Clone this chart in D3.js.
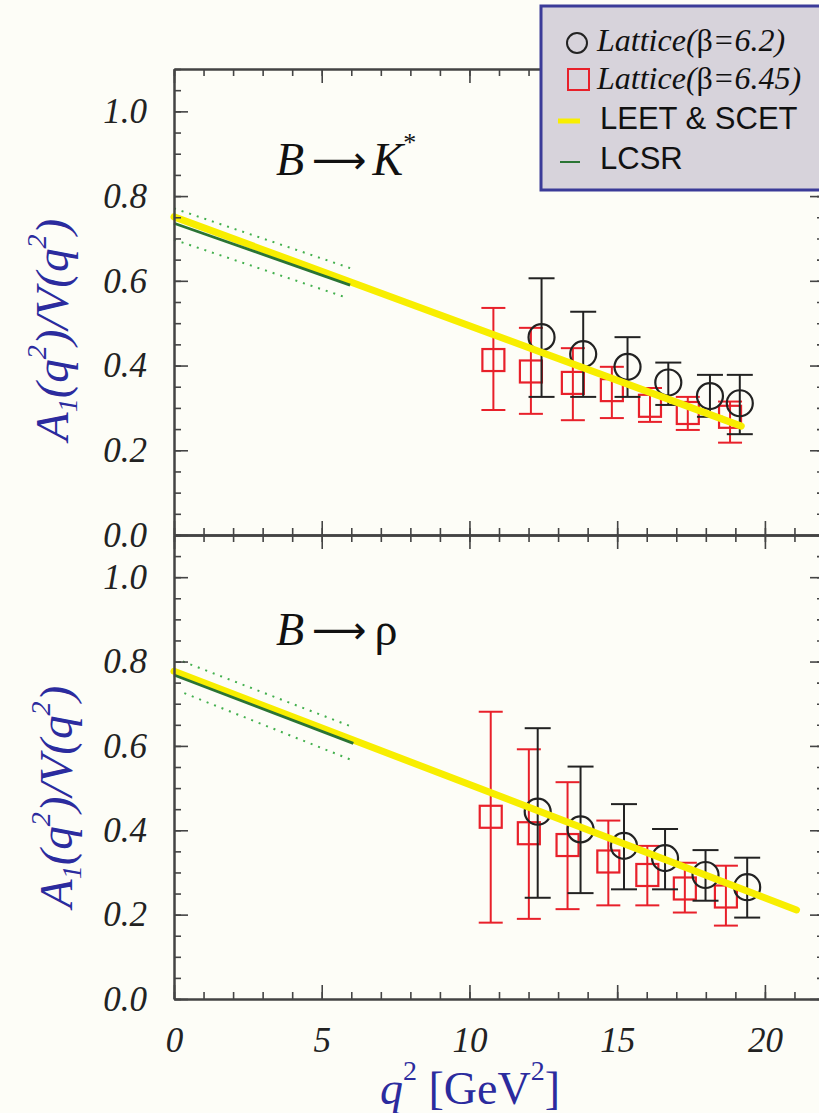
<!DOCTYPE html>
<html><head><meta charset="utf-8">
<script src="https://cdn.jsdelivr.net/npm/d3@7"></script>
<style>body{margin:0;background:#fdfdf7;} svg{display:block}</style>
</head><body>
<svg id="c" width="819" height="1113"></svg>
<script>
// ---------- data ----------
const xTickLabels = [0, 5, 10, 15, 20];
const yTickLabels = [0.0, 0.2, 0.4, 0.6, 0.8, 1.0];
const xDomain = [0, 22];
const yDomain = [0, 1.1];

// [q2, value, low, high]
const kstarLattice62 = [
  [12.44, 0.467, 0.326, 0.606],
  [13.85, 0.427, 0.326, 0.527],
  [15.35, 0.397, 0.326, 0.467],
  [16.73, 0.360, 0.307, 0.407],
  [18.14, 0.328, 0.279, 0.378],
  [19.15, 0.311, 0.238, 0.378]
];
const kstarLattice645 = [
  [10.81, 0.413, 0.295, 0.536],
  [12.08, 0.386, 0.286, 0.489],
  [13.50, 0.359, 0.271, 0.441],
  [14.82, 0.342, 0.276, 0.397],
  [16.11, 0.305, 0.267, 0.347],
  [17.39, 0.288, 0.248, 0.326],
  [18.82, 0.279, 0.218, 0.315]
];
const kstarLeet = [[0, 0.751], [19.2, 0.257]];
const kstarLcsr = [[0, 0.736], [5.96, 0.590]];
const kstarLcsrUp = [[0, 0.771], [5.96, 0.630]];
const kstarLcsrLo = [[0, 0.697], [5.9, 0.559]];

const rhoLattice62 = [
  [12.31, 0.444, 0.240, 0.642],
  [13.76, 0.402, 0.251, 0.551],
  [15.23, 0.363, 0.260, 0.462],
  [16.62, 0.334, 0.260, 0.403],
  [17.99, 0.294, 0.233, 0.353],
  [19.40, 0.265, 0.193, 0.335]
];
const rhoLattice645 = [
  [10.72, 0.432, 0.181, 0.681],
  [12.01, 0.393, 0.190, 0.592],
  [13.32, 0.365, 0.213, 0.514],
  [14.70, 0.326, 0.222, 0.423],
  [16.02, 0.294, 0.222, 0.363],
  [17.29, 0.262, 0.205, 0.323],
  [18.68, 0.243, 0.174, 0.316]
];
const rhoLeet = [[0, 0.777], [21.07, 0.211]];
const rhoLcsr = [[0, 0.768], [6.07, 0.606]];
const rhoLcsrUp = [[0.3, 0.800], [5.96, 0.647]];
const rhoLcsrLo = [[0.35, 0.725], [5.96, 0.568]];

const legendLabels = ["Lattice(β=6.2)", "Lattice(β=6.45)", "LEET & SCET", "LCSR"];

// ---------- drawing ----------
const svg = d3.select("#c");
const SERIF = "'Liberation Serif','Times New Roman',serif";
const SANS = "'Liberation Sans',Arial,sans-serif";
const BLUE = "#2b2b9e";
const RED = "#e8202a";
const BLACK = "#222";
const YELLOW = "#f8ee00";
const GREEN = "#2a7434";
const LGREEN = "#43b04e";

const x = d3.scaleLinear(xDomain, [174, 824]);
const yTop = d3.scaleLinear(yDomain, [535, 69]);
const yBot = d3.scaleLinear(yDomain, [999, 535]);

function styleAxis(g, showText) {
  g.selectAll("path.domain").attr("stroke", "#444").attr("stroke-width", 2);
  g.selectAll(".tick line").attr("stroke", "#444").attr("stroke-width", 1.6);
  g.selectAll(".tick text").attr("font-family", SERIF).attr("font-style", "italic")
    .attr("font-size", 35).attr("fill", BLACK);
  if (!showText) g.selectAll(".tick text").remove();
}

function drawAxes(y, showX) {
  const x0 = x(xDomain[0]), x1 = x(xDomain[1]);
  const y0 = y(yDomain[0]), y1 = y(yDomain[1]);
  // minor
  svg.append("g").attr("transform", `translate(${x0},0)`)
    .call(d3.axisLeft(y).tickValues(y.ticks(22)).tickSizeInner(-7).tickSizeOuter(0).tickFormat(""))
    .call(g => styleAxis(g, false));
  svg.append("g").attr("transform", `translate(${x1},0)`)
    .call(d3.axisRight(y).tickValues(y.ticks(22)).tickSizeInner(-7).tickSizeOuter(0).tickFormat(""))
    .call(g => styleAxis(g, false));
  svg.append("g").attr("transform", `translate(0,${y0})`)
    .call(d3.axisBottom(x).tickValues(x.ticks(22)).tickSizeInner(-7).tickSizeOuter(0).tickFormat(""))
    .call(g => styleAxis(g, false));
  svg.append("g").attr("transform", `translate(0,${y1})`)
    .call(d3.axisTop(x).tickValues(x.ticks(22)).tickSizeInner(-7).tickSizeOuter(0).tickFormat(""))
    .call(g => styleAxis(g, false));
  // major
  svg.append("g").attr("transform", `translate(${x0},0)`)
    .call(d3.axisLeft(y).tickValues(yTickLabels).tickSizeInner(-14).tickSizeOuter(0)
      .tickPadding(27).tickFormat(d3.format(".1f")))
    .call(g => styleAxis(g, true));
  svg.append("g").attr("transform", `translate(${x1},0)`)
    .call(d3.axisRight(y).tickValues(yTickLabels).tickSizeInner(-14).tickSizeOuter(0).tickFormat(""))
    .call(g => styleAxis(g, false));
  svg.append("g").attr("transform", `translate(0,${y0})`)
    .call(d3.axisBottom(x).tickValues(xTickLabels).tickSizeInner(-14).tickSizeOuter(0)
      .tickPadding(28).tickFormat(d3.format("d")))
    .call(g => styleAxis(g, showX));
  svg.append("g").attr("transform", `translate(0,${y1})`)
    .call(d3.axisTop(x).tickValues(xTickLabels).tickSizeInner(-14).tickSizeOuter(0).tickFormat(""))
    .call(g => styleAxis(g, false));
}

function drawData(y, lat62, lat645, leet, lcsr, up, lo) {
  const line = d3.line().x(d => x(d[0])).y(d => y(d[1]));
  const g = svg.append("g");
  // red squares
  lat645.forEach(d => {
    g.append("line").attr("x1", x(d[0])).attr("x2", x(d[0])).attr("y1", y(d[2])).attr("y2", y(d[3]))
      .attr("stroke", RED).attr("stroke-width", 2);
    [d[2], d[3]].forEach(v => g.append("line").attr("x1", x(d[0]) - 12).attr("x2", x(d[0]) + 12)
      .attr("y1", y(v)).attr("y2", y(v)).attr("stroke", RED).attr("stroke-width", 2));
    g.append("rect").attr("x", x(d[0]) - 11).attr("y", y(d[1]) - 11).attr("width", 22).attr("height", 22)
      .attr("fill", "none").attr("stroke", RED).attr("stroke-width", 2.2);
  });
  // black circles
  lat62.forEach(d => {
    g.append("line").attr("x1", x(d[0])).attr("x2", x(d[0])).attr("y1", y(d[2])).attr("y2", y(d[3]))
      .attr("stroke", BLACK).attr("stroke-width", 2);
    [d[2], d[3]].forEach(v => g.append("line").attr("x1", x(d[0]) - 13).attr("x2", x(d[0]) + 13)
      .attr("y1", y(v)).attr("y2", y(v)).attr("stroke", BLACK).attr("stroke-width", 2));
    g.append("circle").attr("cx", x(d[0])).attr("cy", y(d[1])).attr("r", 13)
      .attr("fill", "none").attr("stroke", BLACK).attr("stroke-width", 2.2);
  });
  // LEET & SCET
  g.append("path").attr("d", line(leet)).attr("stroke", YELLOW).attr("stroke-width", 7)
    .attr("fill", "none").attr("stroke-linecap", "round");
  // LCSR band
  [up, lo].forEach(b => g.append("path").attr("d", line(b)).attr("stroke", LGREEN)
    .attr("stroke-width", 2).attr("stroke-dasharray", "2,6").attr("fill", "none"));
  g.append("path").attr("d", line(lcsr)).attr("stroke", GREEN).attr("stroke-width", 2.8).attr("fill", "none");
}

drawData(yTop, kstarLattice62, kstarLattice645, kstarLeet, kstarLcsr, kstarLcsrUp, kstarLcsrLo);
drawData(yBot, rhoLattice62, rhoLattice645, rhoLeet, rhoLcsr, rhoLcsrUp, rhoLcsrLo);
drawAxes(yTop, false);
drawAxes(yBot, true);

// panel titles
function title(xp, yp, target) {
  const t = svg.append("text").attr("x", xp).attr("y", yp).attr("font-family", SERIF)
    .attr("font-size", 46).attr("fill", "#111");
  t.append("tspan").attr("font-style", "italic").text("B");
  t.append("tspan").attr("font-family", "'DejaVu Sans',sans-serif").attr("font-size", 38)
    .attr("dx", 8).attr("dy", -2).text("⟶");
  if (target === "K") {
    t.append("tspan").attr("font-style", "italic").attr("dx", 6).attr("dy", 2).text("K");
    t.append("tspan").attr("font-size", 26).attr("dy", -24).text("*");
  } else {
    t.append("tspan").attr("dx", 8).attr("dy", 2).text("ρ");
  }
}
title(276, 175, "K");
title(276, 645, "rho");

// y axis titles
function yTitle(cx, cy) {
  const t = svg.append("text").attr("transform", `translate(${cx},${cy}) rotate(-90)`)
    .attr("text-anchor", "middle").attr("font-family", SERIF).attr("font-style", "italic")
    .attr("font-size", 47).attr("fill", BLUE);
  t.append("tspan").text("A");
  t.append("tspan").attr("font-size", 28).attr("dy", 9).text("1");
  t.append("tspan").attr("dy", -9).text("(q");
  t.append("tspan").attr("font-size", 28).attr("dy", -22).text("2");
  t.append("tspan").attr("dy", 22).text(")/V(q");
  t.append("tspan").attr("font-size", 28).attr("dy", -22).text("2");
  t.append("tspan").attr("dy", 22).text(")");
}
yTitle(68, 330);
yTitle(72, 797);

// x axis title
{
  const t = svg.append("text").attr("x", 470).attr("y", 1104).attr("text-anchor", "middle")
    .attr("font-family", SERIF).attr("font-size", 46).attr("fill", BLUE);
  t.append("tspan").attr("font-style", "italic").text("q");
  t.append("tspan").attr("font-size", 28).attr("dy", -24).text("2");
  t.append("tspan").attr("dy", 24).text(" [GeV");
  t.append("tspan").attr("font-size", 28).attr("dy", -24).text("2");
  t.append("tspan").attr("dy", 24).text("]");
}

// legend
{
  const g = svg.append("g");
  g.append("rect").attr("x", 541).attr("y", 6).attr("width", 290).attr("height", 184)
    .attr("fill", "#d7d3db").attr("stroke", "#3b3b98").attr("stroke-width", 3);
  g.append("circle").attr("cx", 577).attr("cy", 43).attr("r", 10).attr("fill", "none")
    .attr("stroke", BLACK).attr("stroke-width", 2);
  g.append("rect").attr("x", 568).attr("y", 69).attr("width", 21).attr("height", 21).attr("fill", "none")
    .attr("stroke", RED).attr("stroke-width", 2);
  g.append("line").attr("x1", 558).attr("x2", 580).attr("y1", 121).attr("y2", 121)
    .attr("stroke", YELLOW).attr("stroke-width", 5);
  g.append("line").attr("x1", 560).attr("x2", 580).attr("y1", 162).attr("y2", 162)
    .attr("stroke", GREEN).attr("stroke-width", 2);
  const ly = [51, 89, 129, 169];
  legendLabels.forEach((l, i) => {
    const t = g.append("text").attr("x", i < 2 ? 597 : 600).attr("y", ly[i])
      .attr("font-family", i < 2 ? SERIF : SANS)
      .attr("font-size", i < 2 ? 32 : 31).attr("fill", "#111");
    if (i < 2) {
      const [a, b] = l.split("β");
      t.append("tspan").attr("font-style", "italic").text(a);
      t.append("tspan").text("β");
      t.append("tspan").attr("font-style", "italic").text(b);
    } else {
      t.text(l);
    }
  });
}
</script>
</body></html>
